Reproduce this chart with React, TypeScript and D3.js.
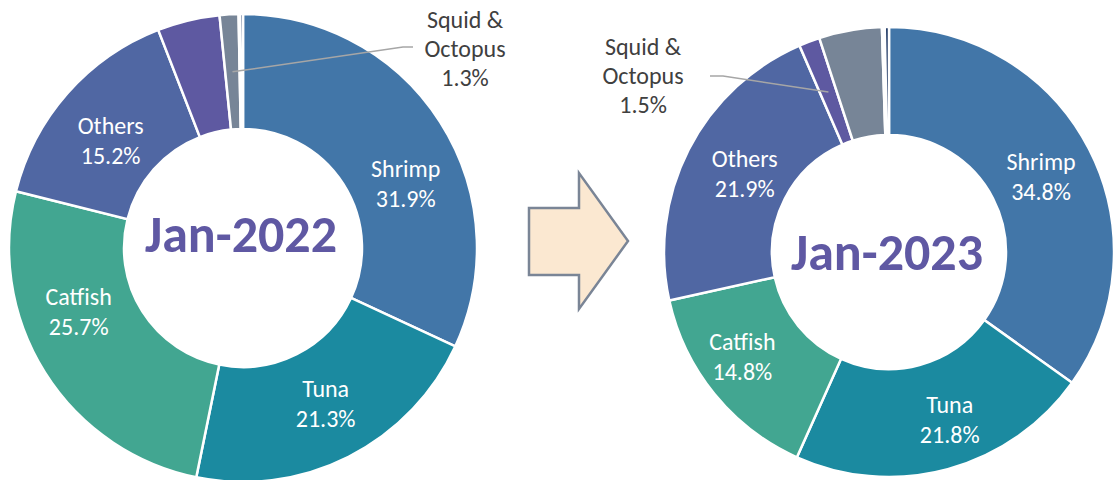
import React from "react";
import * as d3 from "d3";

// ---- Data ----
const categories2022 = ["Shrimp", "Tuna", "Catfish", "Others", "Crab", "Squid & Octopus", "Mussels", "Lobster"];
const values2022 = [31.9, 21.3, 25.7, 15.2, 4.3, 1.3, 0.1, 0.2];
const colors2022 = ["#4276a8", "#1b8aa0", "#42a691", "#5067a3", "#5e59a1", "#778597", "#ffffff", "#1f3864"];

const categories2023 = ["Shrimp", "Tuna", "Catfish", "Others", "Squid & Octopus", "Crab", "Mussels", "Lobster"];
const values2023 = [34.8, 21.8, 14.8, 21.9, 1.5, 4.5, 0.2, 0.3];
const colors2023 = ["#4276a8", "#1b8aa0", "#42a691", "#5067a3", "#5e59a1", "#778597", "#ffffff", "#1f3864"];

const insideLabels = ["Shrimp", "Tuna", "Catfish", "Others"];
const outsideLabel = "Squid & Octopus";

const FONT = "Carlito, Lato, 'Open Sans', sans-serif";

type Item = { name: string; value: number; color: string };

function Donut({ cx, cy, r, inner, title, titleY, items, nudges, outside }: {
  cx: number; cy: number; r: number; inner: number; title: string; titleY: number; items: Item[];
  nudges: Record<string, [number, number]>;
  outside: { text: [number, number]; elbow: [number, number]; end: [number, number] };
}) {
  const pie = d3.pie<Item>().sort(null).value((d) => d.value);
  const arcs = pie(items);
  const arc = d3.arc<d3.PieArcDatum<Item>>().innerRadius(inner).outerRadius(r);
  const labelR = (r + inner) / 2;
  const labelArc = d3.arc<d3.PieArcDatum<Item>>().innerRadius(labelR).outerRadius(labelR);
  return (
    <g transform={`translate(${cx},${cy})`}>
      {arcs.map((a, i) => (
        <path key={i} d={arc(a) || ""} fill={a.data.color} stroke="#fff" strokeWidth={2.5} />
      ))}
      {arcs.filter((a) => insideLabels.includes(a.data.name)).map((a, i) => {
        const [x, y] = labelArc.centroid(a);
        const n = nudges[a.data.name] || [0, 0];
        return (
          <text key={"l" + i} x={x + n[0]} y={y + n[1]} textAnchor="middle" fill="#fff"
            fontFamily={FONT} fontSize={24}>
            <tspan x={x + n[0]} dy="-0.15em">{a.data.name}</tspan>
            <tspan x={x + n[0]} dy="1.25em">{a.data.value.toFixed(1)}%</tspan>
          </text>
        );
      })}
      {arcs.filter((a) => a.data.name === outsideLabel).map((a, i) => {
        const [x, y] = labelArc.centroid(a);
        const [tx, ty] = outside.text;
        return (
          <g key={"o" + i}>
            <polyline points={`${x},${y} ${outside.elbow[0]},${outside.elbow[1]} ${outside.end[0]},${outside.end[1]}`}
              fill="none" stroke="#a6a6a6" strokeWidth={1.5} />
            <text textAnchor="middle" fill="#404040" fontFamily={FONT} fontSize={24}>
              <tspan x={tx} y={ty}>Squid &amp;</tspan>
              <tspan x={tx} dy="1.2em">Octopus</tspan>
              <tspan x={tx} dy="1.2em">{a.data.value.toFixed(1)}%</tspan>
            </text>
          </g>
        );
      })}
      <text x={-2} y={titleY} textAnchor="middle" fill="#5f58a3" fontFamily={FONT}
        fontWeight="bold" fontSize={52}>{title}</text>
    </g>
  );
}

export default function App() {
  const items2022 = categories2022.map((c, i) => ({ name: c, value: values2022[i], color: colors2022[i] }));
  const items2023 = categories2023.map((c, i) => ({ name: c, value: values2023[i], color: colors2023[i] }));
  const arrow = d3.line()([[529, 208], [579, 208], [579, 173], [628, 241], [579, 309], [579, 275], [529, 275]]) + "Z";
  return (
    <svg width={1115} height={480} style={{ position: "absolute", left: 0, top: 0, background: "#fff" }}>
      <Donut cx={243} cy={248} r={234} inner={119} title="Jan-2022" titleY={4} items={items2022}
        nudges={{ Shrimp: [14, 28], Catfish: [-15, -34], Tuna: [3, -5], Others: [0, 6] }}
        outside={{ text: [222, -220], elbow: [160, -201], end: [170, -201] }} />
      <Donut cx={889} cy={252} r={225} inner={117} title="Jan-2023" titleY={18} items={items2023}
        nudges={{ Shrimp: [0, 0], Tuna: [16, 0], Catfish: [-14, -6], Others: [8, -4] }}
        outside={{ text: [-246, -197], elbow: [-166, -176], end: [-179, -176] }} />
      <path d={arrow} fill="#fbe8d1" stroke="#7a8596" strokeWidth={2.5} />
    </svg>
  );
}
